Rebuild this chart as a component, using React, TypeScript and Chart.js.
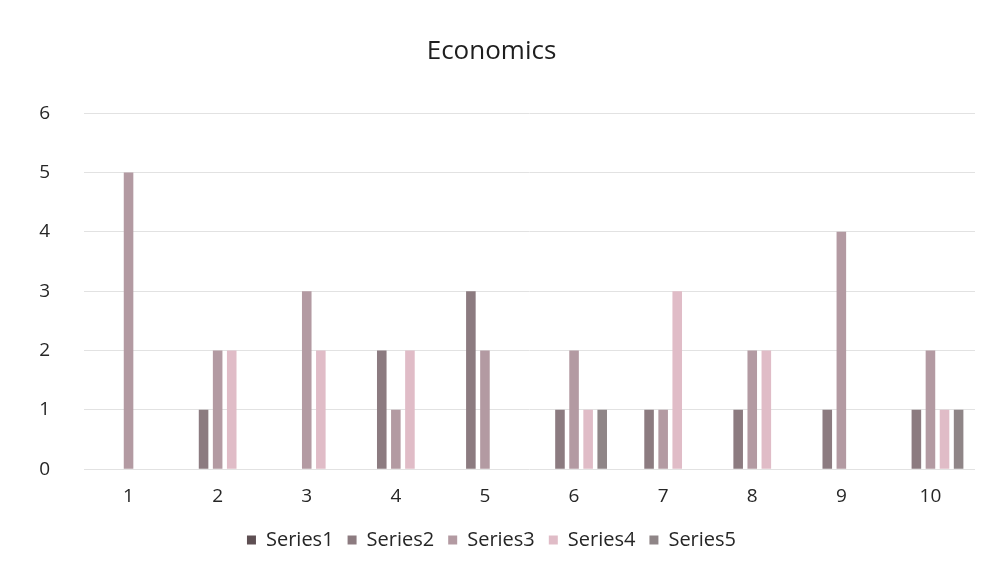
import React, { useEffect, useRef } from "react";
import { Chart, registerables } from "chart.js";

Chart.register(...registerables);

const categories = ["1", "2", "3", "4", "5", "6", "7", "8", "9", "10"];
const series1: (number | null)[] = [null, null, null, null, null, null, null, null, null, null];
const series2: (number | null)[] = [null, 1, null, 2, 3, 1, 1, 1, 1, 1];
const series3: (number | null)[] = [5, 2, 3, 1, 2, 2, 1, 2, 4, 2];
const series4: (number | null)[] = [null, 2, 2, 2, null, 1, 3, 2, null, 1];
const series5: (number | null)[] = [null, null, null, null, null, 1, null, null, null, 1];
const seriesNames = ["Series1", "Series2", "Series3", "Series4", "Series5"];
const seriesColors = ["#5e4f53", "#8c7b80", "#b39aa2", "#e0bcc7", "#8f8587"];
const yTicks = [0, 1, 2, 3, 4, 5, 6];

export default function App() {
  const ref = useRef<HTMLCanvasElement | null>(null);
  useEffect(() => {
    if (!ref.current) return;
    const all = [series1, series2, series3, series4, series5];
    const chart = new Chart(ref.current, {
      type: "bar",
      data: {
        labels: categories,
        datasets: all.map((d, i) => ({
          label: seriesNames[i],
          data: d,
          backgroundColor: seriesColors[i],
          borderWidth: 0,
          categoryPercentage: 0.79,
          barPercentage: 0.68,
        })),
      },
      options: {
        responsive: false,
        animation: false,
        layout: { padding: { left: 0, right: 3, top: 0, bottom: 6 } },
        plugins: {
          title: {
            display: true,
            text: "Economics",
            color: "#1e1e1e",
            font: { family: "Open Sans", size: 26, weight: "normal" },
            padding: { top: 28, bottom: 46 },
          },
          legend: {
            position: "bottom",
            labels: {
              boxWidth: 9,
              boxHeight: 9,
              color: "#262626",
              font: { family: "Open Sans", size: 20 },
              padding: 14,
            },
          },
          tooltip: { enabled: false },
        },
        scales: {
          x: {
            grid: { display: false },
            border: { display: false },
            ticks: {
              color: "#262626",
              font: { family: "Open Sans", size: 19 },
              padding: 8,
            },
          },
          y: {
            min: 0,
            max: 6,
            afterBuildTicks: (s: any) => {
              s.ticks = yTicks.map((v) => ({ value: v }));
            },
            afterFit: (s: any) => {
              s.width = 76;
            },
            grid: { color: "#e2e2e2", drawTicks: false },
            border: { display: false },
            ticks: {
              color: "#262626",
              font: { family: "Open Sans", size: 19 },
              padding: 34,
            },
          },
        },
      },
    });
    return () => chart.destroy();
  }, []);
  return <canvas ref={ref} width={970} height={558} style={{ display: "block" }} />;
}
